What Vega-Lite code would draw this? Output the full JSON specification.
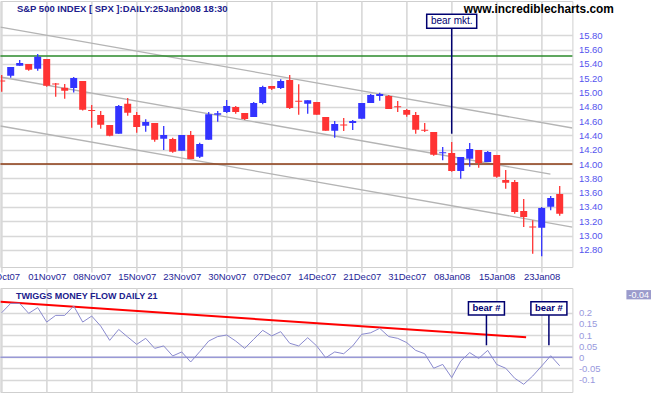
{
  "$schema": "https://vega.github.io/schema/vega-lite/v6.json",
  "padding": {"left": -17.6, "top": 0, "right": 0, "bottom": 0},
  "background": "white",
  "bounds": "flush",
  "spacing": 21,
  "config": {
    "view": {"stroke": "#cfcfcf", "strokeWidth": 1},
    "font": "Liberation Sans",
    "axis": {"grid": true, "gridColor": "#d8d8d8", "gridWidth": 1.6, "gridOpacity": 1, "labelOverlap": false, "labelBound": false, "labelFlush": false, "domain": false, "ticks": false, "labelFont": "Liberation Sans", "labelFontSize": 9.5},
    "locale": {"number": {"decimal": ".", "thousands": ",", "grouping": [3], "currency": ["$", ""], "minus": "-"}}
  },
  "datasets": {
    "candles": [
      {"i":0,"d":"25Oct07","o":15.167,"h":15.245,"l":15.01,"c":15.153},
      {"i":1,"d":"26Oct07","o":15.235,"h":15.357,"l":15.207,"c":15.357},
      {"i":2,"d":"29Oct07","o":15.375,"h":15.455,"l":15.375,"c":15.413},
      {"i":3,"d":"30Oct07","o":15.399,"h":15.399,"l":15.305,"c":15.319},
      {"i":4,"d":"31Oct07","o":15.333,"h":15.539,"l":15.305,"c":15.501},
      {"i":5,"d":"01Nov07","o":15.469,"h":15.469,"l":15.081,"c":15.095},
      {"i":6,"d":"02Nov07","o":15.127,"h":15.133,"l":14.942,"c":15.113},
      {"i":7,"d":"05Nov07","o":15.067,"h":15.119,"l":14.914,"c":15.025},
      {"i":8,"d":"06Nov07","o":15.063,"h":15.217,"l":15.0,"c":15.203},
      {"i":9,"d":"07Nov07","o":15.161,"h":15.161,"l":14.75,"c":14.76},
      {"i":10,"d":"08Nov07","o":14.757,"h":14.825,"l":14.508,"c":14.743},
      {"i":11,"d":"09Nov07","o":14.686,"h":14.742,"l":14.494,"c":14.55},
      {"i":12,"d":"12Nov07","o":14.546,"h":14.546,"l":14.39,"c":14.396},
      {"i":13,"d":"13Nov07","o":14.424,"h":14.825,"l":14.424,"c":14.811},
      {"i":14,"d":"14Nov07","o":14.844,"h":14.923,"l":14.676,"c":14.718},
      {"i":15,"d":"15Nov07","o":14.686,"h":14.728,"l":14.438,"c":14.518},
      {"i":16,"d":"16Nov07","o":14.536,"h":14.626,"l":14.452,"c":14.588},
      {"i":17,"d":"19Nov07","o":14.574,"h":14.574,"l":14.312,"c":14.34},
      {"i":18,"d":"20Nov07","o":14.354,"h":14.532,"l":14.196,"c":14.406},
      {"i":19,"d":"21Nov07","o":14.35,"h":14.368,"l":14.158,"c":14.172},
      {"i":20,"d":"23Nov07","o":14.186,"h":14.406,"l":14.186,"c":14.406},
      {"i":21,"d":"26Nov07","o":14.406,"h":14.462,"l":14.07,"c":14.07},
      {"i":22,"d":"27Nov07","o":14.102,"h":14.298,"l":14.084,"c":14.28},
      {"i":23,"d":"28Nov07","o":14.34,"h":14.728,"l":14.34,"c":14.695},
      {"i":24,"d":"29Nov07","o":14.69,"h":14.742,"l":14.592,"c":14.71},
      {"i":25,"d":"30Nov07","o":14.728,"h":14.895,"l":14.714,"c":14.811},
      {"i":26,"d":"03Dec07","o":14.797,"h":14.811,"l":14.704,"c":14.728},
      {"i":27,"d":"04Dec07","o":14.714,"h":14.714,"l":14.616,"c":14.63},
      {"i":28,"d":"05Dec07","o":14.658,"h":14.867,"l":14.658,"c":14.853},
      {"i":29,"d":"06Dec07","o":14.853,"h":15.095,"l":14.835,"c":15.077},
      {"i":30,"d":"07Dec07","o":15.091,"h":15.091,"l":15.035,"c":15.053},
      {"i":31,"d":"10Dec07","o":15.063,"h":15.185,"l":15.05,"c":15.161},
      {"i":32,"d":"11Dec07","o":15.175,"h":15.245,"l":14.769,"c":14.783},
      {"i":33,"d":"12Dec07","o":14.884,"h":15.115,"l":14.69,"c":14.87},
      {"i":34,"d":"13Dec07","o":14.844,"h":14.891,"l":14.704,"c":14.891},
      {"i":35,"d":"14Dec07","o":14.867,"h":14.867,"l":14.69,"c":14.69},
      {"i":36,"d":"17Dec07","o":14.658,"h":14.658,"l":14.466,"c":14.466},
      {"i":37,"d":"18Dec07","o":14.466,"h":14.602,"l":14.368,"c":14.56},
      {"i":38,"d":"19Dec07","o":14.552,"h":14.644,"l":14.462,"c":14.538},
      {"i":39,"d":"20Dec07","o":14.574,"h":14.616,"l":14.476,"c":14.602},
      {"i":40,"d":"21Dec07","o":14.634,"h":14.853,"l":14.634,"c":14.853},
      {"i":41,"d":"24Dec07","o":14.853,"h":14.979,"l":14.853,"c":14.965},
      {"i":42,"d":"26Dec07","o":14.951,"h":14.997,"l":14.886,"c":14.979},
      {"i":43,"d":"27Dec07","o":14.951,"h":14.965,"l":14.77,"c":14.77},
      {"i":44,"d":"28Dec07","o":14.809,"h":14.881,"l":14.728,"c":14.795},
      {"i":45,"d":"31Dec07","o":14.756,"h":14.769,"l":14.662,"c":14.69},
      {"i":46,"d":"02Jan08","o":14.686,"h":14.728,"l":14.424,"c":14.48},
      {"i":47,"d":"03Jan08","o":14.478,"h":14.574,"l":14.448,"c":14.464},
      {"i":48,"d":"04Jan08","o":14.448,"h":14.448,"l":14.116,"c":14.13},
      {"i":49,"d":"07Jan08","o":14.152,"h":14.238,"l":14.052,"c":14.166},
      {"i":50,"d":"08Jan08","o":14.154,"h":14.308,"l":13.893,"c":13.902},
      {"i":51,"d":"09Jan08","o":13.902,"h":14.098,"l":13.795,"c":14.098},
      {"i":52,"d":"10Jan08","o":14.074,"h":14.294,"l":13.963,"c":14.21},
      {"i":53,"d":"11Jan08","o":14.196,"h":14.196,"l":13.949,"c":14.014},
      {"i":54,"d":"14Jan08","o":14.028,"h":14.182,"l":14.028,"c":14.168},
      {"i":55,"d":"15Jan08","o":14.126,"h":14.126,"l":13.809,"c":13.823},
      {"i":56,"d":"16Jan08","o":13.777,"h":13.916,"l":13.655,"c":13.739},
      {"i":57,"d":"17Jan08","o":13.749,"h":13.777,"l":13.305,"c":13.329},
      {"i":58,"d":"18Jan08","o":13.343,"h":13.511,"l":13.119,"c":13.259},
      {"i":59,"d":"22Jan08","o":13.127,"h":13.213,"l":12.746,"c":13.113},
      {"i":60,"d":"23Jan08","o":13.109,"h":13.4,"l":12.709,"c":13.385},
      {"i":61,"d":"24Jan08","o":13.403,"h":13.553,"l":13.353,"c":13.525},
      {"i":62,"d":"25Jan08","o":13.581,"h":13.693,"l":13.277,"c":13.306}
    ],
    "tmf": [
      {"i":0,"v":0.2},{"i":1,"v":0.242},{"i":2,"v":0.242},{"i":3,"v":0.197},{"i":4,"v":0.223},
      {"i":5,"v":0.158},{"i":6,"v":0.188},{"i":7,"v":0.188},{"i":8,"v":0.23},{"i":9,"v":0.158},
      {"i":10,"v":0.185},{"i":11,"v":0.14},{"i":12,"v":0.076},{"i":13,"v":0.125},{"i":14,"v":0.091},
      {"i":15,"v":0.058},{"i":16,"v":0.085},{"i":17,"v":0.04},{"i":18,"v":0.051},{"i":19,"v":0.006},
      {"i":20,"v":0.024},{"i":21,"v":-0.021},{"i":22,"v":0.025},{"i":23,"v":0.073},{"i":24,"v":0.093},
      {"i":25,"v":0.1},{"i":26,"v":0.073},{"i":27,"v":0.04},{"i":28,"v":0.081},{"i":29,"v":0.121},
      {"i":30,"v":0.096},{"i":31,"v":0.115},{"i":32,"v":0.063},{"i":33,"v":0.051},{"i":34,"v":0.088},
      {"i":35,"v":0.051},{"i":36,"v":-0.002},{"i":37,"v":0.024},{"i":38,"v":0.016},{"i":39,"v":0.051},
      {"i":40,"v":0.103},{"i":41,"v":0.11},{"i":42,"v":0.13},{"i":43,"v":0.093},{"i":44,"v":0.085},
      {"i":45,"v":0.066},{"i":46,"v":0.031},{"i":47,"v":0.016},{"i":48,"v":-0.049},{"i":49,"v":-0.032},
      {"i":50,"v":-0.091},{"i":51,"v":-0.017},{"i":52,"v":0.021},{"i":53,"v":-0.005},{"i":54,"v":0.031},
      {"i":55,"v":-0.032},{"i":56,"v":-0.049},{"i":57,"v":-0.094},{"i":58,"v":-0.121},{"i":59,"v":-0.084},
      {"i":60,"v":-0.039},{"i":61,"v":0.007},{"i":62,"v":-0.038}
    ],
    "channel": [
      {"line":"upper","i":-0.144,"p":15.916},{"line":"upper","i":63.41,"p":14.504},
      {"line":"middle","i":-0.144,"p":15.217},{"line":"middle","i":60.97,"p":13.859},
      {"line":"lower","i":-0.144,"p":14.532},{"line":"lower","i":63.41,"p":13.119}
    ],
    "levels": [
      {"kind":"resistance","level":15.51},
      {"kind":"support","level":14.0}
    ],
    "zero": [{"v": 0}],
    "tmfTrend": [
      {"i":-0.144,"v":0.249},{"i":58.27,"v":0.0897}
    ],
    "bearPrice": [
      {"i":50,"label":"bear mkt.","from":14.424,"to":15.898,"at":15.996}
    ],
    "bearTmf": [
      {"i":53.86,"label":"bear #","from":0.0539,"to":0.1897,"at":0.2198},
      {"i":60.8,"label":"bear #","from":0.0539,"to":0.1897,"at":0.2198}
    ]
  },
  "vconcat": [
    {
      "width": 572,
      "height": 266,
      "encoding": {
        "x": {"field": "i", "type": "quantitative",
          "scale": {"domain": [-0.144, 63.41], "nice": false, "zero": false, "padding": 0},
          "axis": {"values": [0,5,10,15,20,25,30,35,40,45,50,55,60],
            "labelExpr": "['25Oct07','01Nov07','08Nov07','15Nov07','23Nov07','30Nov07','07Dec07','14Dec07','21Dec07','31Dec07','08Jan08','15Jan08','23Jan08'][round(datum.value/5)]",
            "grid": true, "ticks": true, "tickSize": 5, "tickColor": "#d8d8d8", "tickWidth": 1.6,
            "labelPadding": 0, "labelColor": "#1e1e96",
            "title": "S&P 500 INDEX [ SPX ]:DAILY:25Jan2008 18:30", "titleX": 16, "titleY": -256, "titleAlign": "left",
            "titleAnchor": "start", "titleBaseline": "alphabetic", "titleFontSize": 9.5, "titleFontWeight": "bold",
            "titleColor": "#20208c", "titleFont": "Liberation Sans"}
        },
        "y": {"field": "p", "type": "quantitative",
          "scale": {"domain": [12.56, 16.28], "nice": false, "zero": false},
          "axis": {"orient": "right", "values": [12.8,13.0,13.2,13.4,13.6,13.8,14.0,14.2,14.4,14.6,14.8,15.0,15.2,15.4,15.6,15.8],
            "format": ".2f", "grid": true, "labelPadding": 6, "labelColor": "#5555ee",
            "title": "www.incrediblecharts.com", "titleAngle": 0, "titleX": 41, "titleY": 11.5,
            "titleAlign": "right", "titleBaseline": "alphabetic", "titleFontSize": 11.9, "titleFontWeight": "bold",
            "titleColor": "#000000", "titleFont": "Liberation Sans"}
        }
      },
      "layer": [
        {
          "data": {"name": "channel"},
          "mark": {"type": "line", "strokeWidth": 1.3, "color": "#b4b4b4", "clip": true},
          "encoding": {
            "detail": {"field": "line", "type": "nominal"}
          }
        },
        {
          "data": {"name": "levels"},
          "mark": {"type": "rule", "strokeWidth": 1.5},
          "encoding": {
            "x": null,
            "y": {"field": "level"},
            "color": {"field": "kind", "type": "nominal", "scale": {"domain": ["resistance","support"], "range": ["#2a8a2a","#8b3a12"]}, "legend": null}
          }
        },
        {
          "data": {"name": "candles"},
          "mark": {"type": "rule", "strokeWidth": 1.3, "clip": true},
          "encoding": {
            "y": {"field": "l"},
            "y2": {"field": "h"},
            "color": {"condition": {"test": "datum.c >= datum.o", "value": "#3333ff"}, "value": "#ff3333"}
          }
        },
        {
          "data": {"name": "candles"},
          "mark": {"type": "bar", "width": 7, "clip": true},
          "encoding": {
            "y": {"field": "o"},
            "y2": {"field": "c"},
            "color": {"condition": {"test": "datum.c >= datum.o", "value": "#3333ff"}, "value": "#ff3333"}
          }
        },
        {
          "data": {"name": "bearPrice"},
          "mark": {"type": "rule", "strokeWidth": 1.5, "color": "#000070"},
          "encoding": {
            "y": {"field": "from"},
            "y2": {"field": "to"}
          }
        },
        {
          "data": {"name": "bearPrice"},
          "mark": {"type": "point", "shape": "M-0.5,-0.14L0.5,-0.14L0.5,0.14L-0.5,0.14Z", "size": 10000, "filled": true, "fill": "white", "stroke": "#000070", "strokeWidth": 1.5, "opacity": 1},
          "encoding": {
            "y": {"field": "at"}
          }
        },
        {
          "data": {"name": "bearPrice"},
          "mark": {"type": "text", "fontSize": 10, "color": "#000070", "align": "center", "baseline": "middle", "font": "Liberation Sans"},
          "encoding": {
            "y": {"field": "at"},
            "text": {"field": "label"}
          }
        },
        {
          "data": {"name": "candles"},
          "transform": [{"filter": "datum.i == 62"}],
          "mark": {"type": "point", "shape": "M2.985,-0.2825L4.585,-0.2825L4.585,0.2825L2.985,0.2825Z", "size": 1600, "filled": true, "fill": "#4f4ff0", "strokeWidth": 0, "opacity": 1},
          "encoding": {
            "y": {"datum": 16.186}
          }
        },
        {
          "data": {"name": "candles"},
          "transform": [{"filter": "datum.i == 62"}],
          "mark": {"type": "text", "dx": 62, "align": "left", "baseline": "middle", "fontSize": 9, "fontWeight": "bold", "color": "white", "font": "Liberation Sans"},
          "encoding": {
            "y": {"datum": 16.186},
            "text": {"field": "c", "type": "quantitative", "format": ".3f"}
          }
        }
      ]
    },
    {
      "width": 572,
      "height": 104,
      "encoding": {
        "x": {"field": "i", "type": "quantitative",
          "scale": {"domain": [-0.144, 63.41], "nice": false, "zero": false, "padding": 0},
          "axis": {"values": [0,5,10,15,20,25,30,35,40,45,50,55,60],
            "grid": true, "labels": false,
            "title": "TWIGGS MONEY FLOW DAILY 21", "titleX": 15, "titleY": -93.7, "titleAlign": "left",
            "titleAnchor": "start", "titleBaseline": "alphabetic", "titleFontSize": 9, "titleFontWeight": "bold",
            "titleColor": "#20208c", "titleFont": "Liberation Sans"}
        },
        "y": {"field": "v", "type": "quantitative",
          "scale": {"domain": [-0.1556, 0.3108], "nice": false, "zero": false},
          "axis": {"orient": "right", "values": [-0.1,-0.05,0,0.05,0.1,0.15,0.2], "labelExpr": "'' + datum.value",
            "grid": true, "labelPadding": 6, "labelColor": "#9999dd", "title": null}
        }
      },
      "layer": [
        {
          "data": {"name": "tmfTrend"},
          "mark": {"type": "line", "color": "#ff0000", "strokeWidth": 2, "clip": true}
        },
        {
          "data": {"name": "zero"},
          "mark": {"type": "rule", "color": "#9999d6", "strokeWidth": 1.5},
          "encoding": {
            "x": null
          }
        },
        {
          "data": {"name": "tmf"},
          "mark": {"type": "line", "color": "#8a8ace", "strokeWidth": 1, "clip": true}
        },
        {
          "data": {"name": "bearTmf"},
          "mark": {"type": "rule", "strokeWidth": 1.5, "color": "#000070"},
          "encoding": {
            "y": {"field": "from"},
            "y2": {"field": "to"}
          }
        },
        {
          "data": {"name": "bearTmf"},
          "mark": {"type": "point", "shape": "M-0.36,-0.133L0.36,-0.133L0.36,0.133L-0.36,0.133Z", "size": 10000, "filled": true, "fill": "white", "stroke": "#000070", "strokeWidth": 1.5, "opacity": 1},
          "encoding": {
            "y": {"field": "at"}
          }
        },
        {
          "data": {"name": "bearTmf"},
          "mark": {"type": "text", "fontSize": 9.5, "fontWeight": "bold", "color": "#000070", "align": "center", "baseline": "middle", "font": "Liberation Sans"},
          "encoding": {
            "y": {"field": "at"},
            "text": {"field": "label"}
          }
        },
        {
          "data": {"name": "tmf"},
          "transform": [{"filter": "datum.i == 62"}],
          "mark": {"type": "point", "shape": "M3.335,-0.2325L4.585,-0.2325L4.585,0.2325L3.335,0.2325Z", "size": 1600, "filled": true, "fill": "#9b9bcc", "strokeWidth": 0, "opacity": 1},
          "encoding": {
            "y": {"datum": 0.2807}
          }
        },
        {
          "data": {"name": "tmf"},
          "transform": [{"filter": "datum.i == 62"}],
          "mark": {"type": "text", "dx": 68.7, "align": "left", "baseline": "middle", "fontSize": 9, "color": "white", "font": "Liberation Sans"},
          "encoding": {
            "y": {"datum": 0.2807},
            "text": {"field": "v", "type": "quantitative", "format": ".2f"}
          }
        }
      ]
    }
  ]
}
